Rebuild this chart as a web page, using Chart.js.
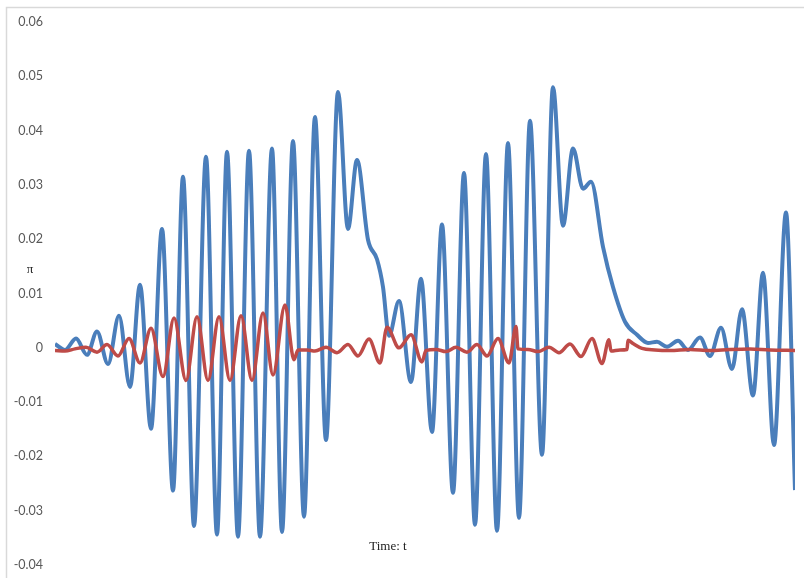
<!DOCTYPE html>
<html>
  <head>
    <meta charset="utf-8">
    <title>Time series π</title>
    <script src="https://cdn.jsdelivr.net/npm/chart.js"></script>
    <style>
    body { margin: 0; background: #fff; }
    #wrap { position: relative; width: 804px; height: 578px; }
  </style>
  </head>
  <body>
    <div id="wrap"><canvas id="piChart" width="804" height="578"></canvas></div>
    <script>
    // values (time in arbitrary units)
    const blueTime = [0, 1.0, 2.1, 3.2, 4.2, 5.3, 6.4, 7.5, 8.5, 9.6, 10.7, 11.8, 12.8, 13.9, 15.1, 16.2, 17.2, 18.3, 19.4, 20.5,
      21.7, 22.7, 23.8, 24.9, 26.0, 27.1, 28.3, 29.3, 30.2, 31.3, 32.2, 32.8, 33.4, 34.4, 35.6, 36.6, 37.7, 38.7, 39.8, 40.9,
      42.0, 43.1, 44.2, 45.3, 46.4, 47.5, 48.7, 49.8, 50.8, 51.8, 52.8, 53.6, 54.8, 55.8, 57.0, 58.2, 59.3, 60.2, 61.2, 62.3,
      63.3, 64.5, 65.5, 66.6, 67.7, 68.7, 69.8, 70.8, 71.9, 73.1, 74.0];
    const blueValues = [0.0007, -0.0004, 0.0017, -0.0013, 0.003, -0.003, 0.0059, -0.0072, 0.0116, -0.0149, 0.0219, -0.0263, 0.0315, -0.0328, 0.0352, -0.0344, 0.0361, -0.0348, 0.0363, -0.0348,
      0.0367, -0.0339, 0.0381, -0.0311, 0.0425, -0.017, 0.0471, 0.0219, 0.0346, 0.0199, 0.0163, 0.0112, 0.0022, 0.0086, -0.0063, 0.0127, -0.0155, 0.0227, -0.0267, 0.0322,
      -0.0326, 0.0357, -0.0337, 0.0377, -0.0313, 0.0418, -0.0197, 0.048, 0.0225, 0.0367, 0.0293, 0.0306, 0.0186, 0.0112, 0.0048, 0.0024, 0.0009, 0.0011, 0.0002, 0.0013,
      -0.0004, 0.0019, -0.0015, 0.0037, -0.0039, 0.0071, -0.0088, 0.0138, -0.0179, 0.0249, -0.0262];

    const redTime = [0, 1.0, 2.0, 3.1, 4.2, 5.2, 6.3, 7.4, 8.5, 9.6, 10.8, 11.9, 13.1, 14.2, 15.3, 16.4, 17.5, 18.6, 19.7, 20.8,
      21.8, 23.0, 23.9, 24.3, 25.2, 26.0, 27.1, 28.2, 29.3, 30.3, 31.4, 32.5, 33.2, 34.4, 35.6, 36.7, 37.1, 38.1, 39.1, 40.1,
      41.2, 42.2, 43.2, 44.3, 45.4, 46.1, 46.3, 47.3, 48.3, 49.4, 50.4, 51.5, 52.6, 53.7, 54.7, 55.4, 55.6, 56.5, 57.2, 57.3,
      57.8, 58.7, 60.0, 61.5, 63.5, 65.5, 67.5, 69.5, 71.5, 74.0];
    const redValues = [-0.0005, -0.0006, -0.0002, 0.0001, -0.0008, 0.0006, -0.0015, 0.0017, -0.0028, 0.0036, -0.0053, 0.0055, -0.006, 0.0057, -0.006, 0.0057, -0.006, 0.0059, -0.006, 0.0064,
      -0.005, 0.0079, -0.0022, -0.0004, -0.0004, -0.0006, 0.0001, -0.0009, 0.0006, -0.0015, 0.0016, -0.0028, 0.0038, 0, 0.0024, -0.0026, -0.0005, -0.0003, -0.0007, 0.0001,
      -0.0008, 0.0006, -0.0015, 0.0017, -0.0028, 0.0039, -0.0002, -0.0003, -0.0007, 0.0001, -0.0009, 0.0007, -0.0016, 0.0017, -0.0029, 0.0015, -0.0006, -0.0004, -0.0003, 0.0014,
      0.0008, -0.0001, -0.0004, -0.0005, -0.0003, -0.0005, -0.0003, -0.0002, -0.0004, -0.0005];

    const yMin = -0.04;
    const yMax = 0.06;
    const yStep = 0.01;
    const yTitle = "π";
    const xTitle = "Time: t";

    const toPoints = (ts, vs) => ts.map((t, i) => ({ x: t, y: vs[i] }));

    // frame + the two loose labels
    const extras = {
      id: "extras",
      beforeDraw(chart) {
        const ctx = chart.ctx;
        ctx.save();
        ctx.strokeStyle = "#d9d9d9";
        ctx.lineWidth = 1.5;
        ctx.strokeRect(6.5, 7.5, 800, 580);
        ctx.restore();
      },
      afterDraw(chart) {
        const ctx = chart.ctx;
        const a = chart.chartArea;
        ctx.save();
        ctx.fillStyle = "#222";
        ctx.textAlign = "center";
        ctx.textBaseline = "middle";
        ctx.font = "13px 'Liberation Serif'";
        ctx.fillText(xTitle, a.left + 333, a.bottom - 18);
        ctx.fillText(yTitle, a.left - 25, chart.scales.y.getPixelForValue(0.0144));
        ctx.restore();
      }
    };

    const ctx = document.getElementById("piChart").getContext("2d");
    new Chart(ctx, {
      type: "line",
      data: {
        datasets: [
          {
            label: "blue",
            data: toPoints(blueTime, blueValues),
            borderColor: "#4a7ebb",
            borderWidth: 4,
            pointRadius: 0,
            fill: false,
            cubicInterpolationMode: "monotone",
            order: 2
          },
          {
            label: "red",
            data: toPoints(redTime, redValues),
            borderColor: "#be4b48",
            borderWidth: 3.5,
            pointRadius: 0,
            fill: false,
            cubicInterpolationMode: "monotone",
            order: 1
          }
        ]
      },
      options: {
        responsive: false,
        animation: false,
        layout: { autoPadding: false, padding: { top: 22, bottom: 13, right: 9, left: 0 } },
        plugins: { legend: { display: false }, tooltip: { enabled: false } },
        scales: {
          x: { type: "linear", min: 0, max: 74, display: false },
          y: {
            min: yMin,
            max: yMax,
            afterFit(scale) {
              scale.width = 55;
              scale.paddingTop = 0;
              scale.paddingBottom = 0;
            },
            grid: { display: false, drawTicks: false },
            border: { display: false },
            ticks: {
              stepSize: yStep,
              padding: 12,
              color: "#595959",
              font: { family: "Lato", size: 12.5 },
              callback: (v) => (Math.abs(v) < 1e-9 ? "0" : v.toFixed(2))
            }
          }
        }
      },
      plugins: [extras]
    });
  </script>
  </body>
</html>
